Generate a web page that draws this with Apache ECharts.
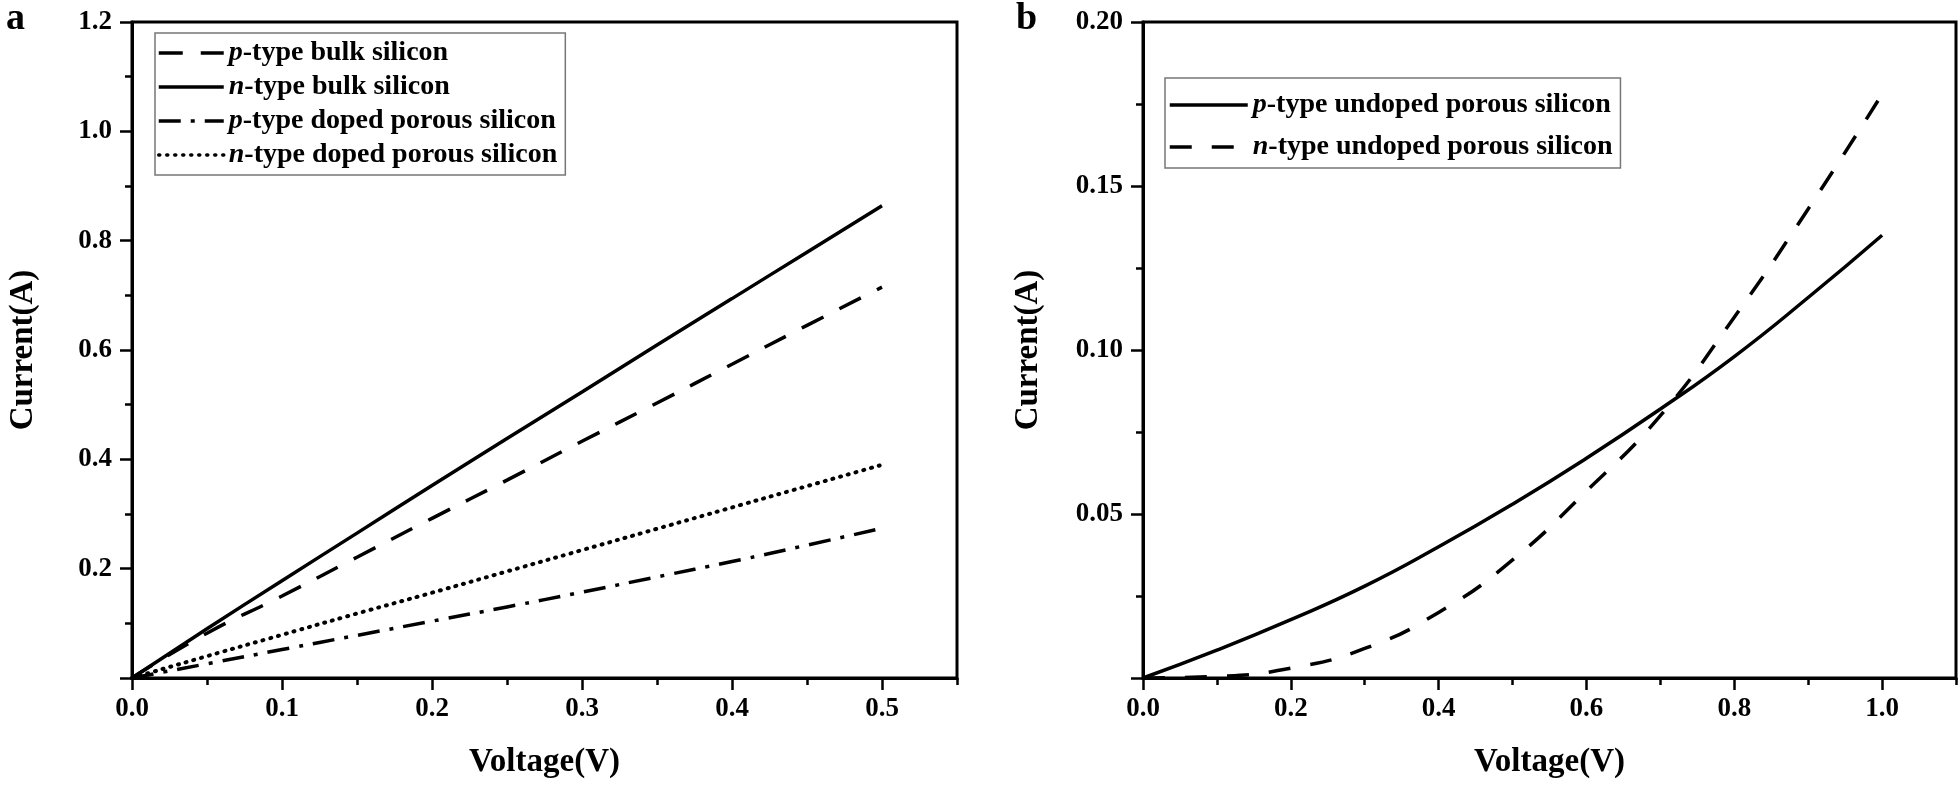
<!DOCTYPE html>
<html>
<head>
<meta charset="utf-8">
<script src="https://cdn.jsdelivr.net/npm/echarts@6/dist/echarts.min.js"></script>
<style>
html,body{margin:0;padding:0;background:#fff;}
#chart{width:1958px;height:786px;}
</style>
</head>
<body>
<div id="chart"></div>
<script>
// ---- Data ----
const voltageA = [0, 0.05, 0.1, 0.15, 0.2, 0.25, 0.3, 0.35, 0.4, 0.45, 0.5];
const pBulk   = [0, 0.082, 0.150, 0.221, 0.292, 0.362, 0.433, 0.503, 0.574, 0.645, 0.715];
const nBulk   = [0, 0.090, 0.178, 0.265, 0.352, 0.438, 0.523, 0.609, 0.694, 0.779, 0.864];
const pDoped  = [0, 0.026, 0.052, 0.078, 0.104, 0.130, 0.157, 0.185, 0.213, 0.243, 0.274];
const nDoped  = [0, 0.040, 0.079, 0.118, 0.156, 0.195, 0.234, 0.273, 0.312, 0.351, 0.390];

const voltageB  = [0, 0.1, 0.2, 0.3, 0.4, 0.5, 0.6, 0.7, 0.8, 0.9, 1.0];
const pUndoped  = [0, 0.0085, 0.0178, 0.028, 0.040, 0.053, 0.067, 0.082, 0.098, 0.116, 0.135];
const nUndoped  = [0, 0.0005, 0.003, 0.009, 0.020, 0.036, 0.057, 0.080, 0.110, 0.143, 0.178];

const namesA = ['p-type bulk silicon', 'n-type bulk silicon', 'p-type doped porous silicon', 'n-type doped porous silicon'];
const namesB = ['p-type undoped porous silicon', 'n-type undoped porous silicon'];
const xTicksA = {min: 0, max: 0.55, major: 0.1, minor: 0.05};
const yTicksA = {min: 0, max: 1.2, major: 0.2};
const xTicksB = {min: 0, max: 1.1, major: 0.2, minor: 0.1};
const yTicksB = {min: 0, max: 0.2, major: 0.05};

// ---- Styling ----
const FONT = '"Liberation Serif", "Times New Roman", serif';
const pairs = (xs, ys) => xs.map((x, i) => [x, ys[i]]);
const legendFmt = n => n.replace(/^([pn])-/, '{i|$1}-');
const legendText = {
  fontFamily: FONT, fontWeight: 'bold', fontSize: 28, color: '#000',
  rich: { i: { fontFamily: FONT, fontWeight: 'bold', fontStyle: 'italic', fontSize: 28, color: '#000' } }
};
const axisLineStyle = {show: true, onZero: false, lineStyle: {color: '#000', width: 3}};
const tickLabel = {color: '#000', fontFamily: FONT, fontWeight: 'bold', fontSize: 27};
const nameStyle = {color: '#000', fontFamily: FONT, fontWeight: 'bold', fontSize: 33};

function xMajor(grid, t, fmt) {
  return {
    type: 'value', gridIndex: grid, min: t.min, max: t.max, interval: t.major,
    axisLine: axisLineStyle,
    axisTick: {show: true, length: 12, lineStyle: {color: '#000', width: 2.5}},
    axisLabel: {margin: 18, showMaxLabel: false, formatter: fmt, ...tickLabel},
    splitLine: {show: false},
    name: 'Voltage(V)', nameLocation: 'middle', nameGap: 68, nameTextStyle: nameStyle
  };
}
function xMinor(grid, t) {
  return {
    type: 'value', gridIndex: grid, min: t.min, max: t.max, interval: t.minor, position: 'bottom',
    axisLine: {show: false}, axisLabel: {show: false}, splitLine: {show: false},
    axisTick: {show: true, length: 7, lineStyle: {color: '#000', width: 2.5}}
  };
}
function yAxis(grid, t, fmt, gap) {
  return {
    type: 'value', gridIndex: grid, min: t.min, max: t.max, interval: t.major,
    axisLine: axisLineStyle,
    axisTick: {show: true, length: 12, lineStyle: {color: '#000', width: 2.5}},
    minorTick: {show: true, splitNumber: 2, length: 7, lineStyle: {color: '#000', width: 2.5}},
    axisLabel: {margin: 20, showMinLabel: false, formatter: fmt, ...tickLabel},
    splitLine: {show: false}, minorSplitLine: {show: false},
    name: 'Current(A)', nameLocation: 'middle', nameGap: gap, nameRotate: 90, nameTextStyle: nameStyle
  };
}
function line(name, xs, ys, xi, yi, type, extra) {
  return {
    name, type: 'line', xAxisIndex: xi, yAxisIndex: yi, data: pairs(xs, ys),
    symbol: 'none', showSymbol: false, smooth: true, animation: false,
    lineStyle: Object.assign({color: '#000', width: 3.5, type: type}, extra || {}),
    itemStyle: {color: '#000'}
  };
}
const legendBase = {
  orient: 'vertical', itemHeight: 14, borderColor: '#777', borderWidth: 1.5,
  formatter: legendFmt, textStyle: legendText, selectedMode: false,
  itemStyle: {color: 'rgba(0,0,0,0)', borderWidth: 0, opacity: 0},
  lineStyle: {color: '#000', width: 3.5}
};

const chart = echarts.init(document.getElementById('chart'), null, {renderer: 'canvas'});
chart.setOption({
  backgroundColor: '#fff',
  animation: false,
  grid: [
    {left: 132, top: 22, width: 825, height: 656, show: true, borderColor: '#000', borderWidth: 3, backgroundColor: 'transparent'},
    {left: 1143, top: 22, width: 813, height: 656, show: true, borderColor: '#000', borderWidth: 3, backgroundColor: 'transparent'}
  ],
  xAxis: [
    xMajor(0, xTicksA, v => v.toFixed(1)),
    xMinor(0, xTicksA),
    xMajor(1, xTicksB, v => v.toFixed(1)),
    xMinor(1, xTicksB)
  ],
  yAxis: [
    yAxis(0, yTicksA, v => v.toFixed(1), 92),
    yAxis(1, yTicksB, v => v.toFixed(2), 98)
  ],
  legend: [
    Object.assign({}, legendBase, {
      data: namesA, left: 155, top: 33, itemWidth: 65, itemGap: 6, padding: [6, 8, 6, 2]
    }),
    Object.assign({}, legendBase, {
      data: namesB, left: 1165, top: 78, itemWidth: 78, itemGap: 14, padding: [13, 8, 7, 3]
    })
  ],
  graphic: [
    {type: 'text', left: 6, top: 0, style: {text: 'a', fontFamily: FONT, fontWeight: 'bold', fontSize: 38, fill: '#000'}},
    {type: 'text', left: 1016, top: 0, style: {text: 'b', fontFamily: FONT, fontWeight: 'bold', fontSize: 38, fill: '#000'}}
  ],
  series: [
    line(namesA[0], voltageA, pBulk, 0, 0, [24, 18]),
    line(namesA[1], voltageA, nBulk, 0, 0, 'solid'),
    line(namesA[2], voltageA, pDoped, 0, 0, [22, 10, 4, 10]),
    line(namesA[3], voltageA, nDoped, 0, 0, [1, 7], {cap: 'round', width: 4}),
    line(namesB[0], voltageB, pUndoped, 2, 1, 'solid'),
    line(namesB[1], voltageB, nUndoped, 2, 1, [22, 20])
  ]
});
</script>
</body>
</html>
